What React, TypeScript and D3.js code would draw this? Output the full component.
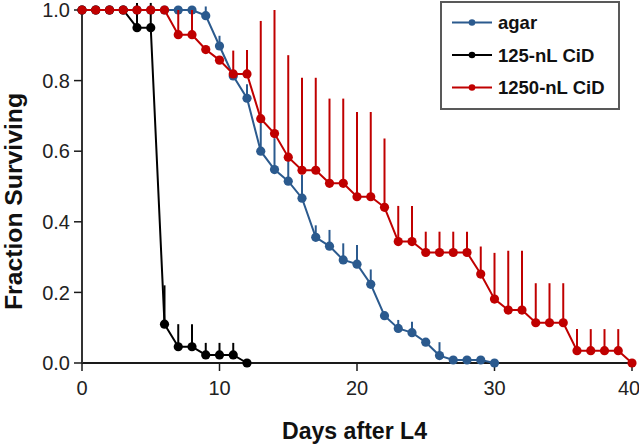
import React from "react";
import * as d3 from "d3";

const agarDays = [0,1,2,3,4,5,6,7,8,9,10,11,12,13,14,15,16,17,18,19,20,21,22,23,24,25,26,27,28,29,30];
const agarValues = [1,1,1,1,1,1,1,1,1,0.984,0.898,0.813,0.75,0.6,0.548,0.515,0.467,0.356,0.331,0.292,0.28,0.223,0.134,0.098,0.086,0.059,0.021,0.0085,0.0085,0.0085,0];
const agarUpper = [null,null,null,null,null,null,null,null,null,1.01,0.927,null,0.79,0.69,0.637,0.575,0.533,0.39,0.377,0.339,0.334,0.265,null,0.122,0.117,null,0.059,null,null,null,null];

const cid125Days = [0,1,2,3,4,5,6,7,8,9,10,11,12];
const cid125Values = [1,1,1,1,0.95,0.95,0.11,0.046,0.046,0.023,0.023,0.023,0];
const cid125Upper = [null,null,null,null,1.02,1.02,0.22,0.11,0.11,0.057,0.057,0.057,null];

const cid1250Days = [0,1,2,3,4,5,6,7,8,9,10,11,12,13,14,15,16,17,18,19,20,21,22,23,24,25,26,27,28,29,30,31,32,33,34,35,36,37,38,39,40];
const cid1250Values = [1,1,1,1,1,1,1,0.93,0.93,0.888,0.858,0.819,0.819,0.692,0.65,0.583,0.546,0.546,0.509,0.509,0.471,0.471,0.441,0.344,0.344,0.313,0.313,0.313,0.313,0.252,0.181,0.15,0.15,0.114,0.114,0.114,0.035,0.035,0.035,0.035,0];
const cid1250Upper = [null,null,null,null,null,null,null,1.0,1.0,null,null,0.885,0.887,0.969,1.0,0.872,0.808,0.808,0.749,0.749,0.711,0.711,0.636,0.445,0.445,0.372,0.372,0.372,0.372,0.33,0.312,0.318,0.318,0.226,0.226,0.226,0.096,0.096,0.096,0.096,null];

const seriesNames = ["agar", "125-nL CiD", "1250-nL CiD"];
const seriesColors = ["#2b5a8e", "#000000", "#c00000"];
const xTicks = [0, 10, 20, 30, 40];
const yTicks = [0, 0.2, 0.4, 0.6, 0.8, 1.0];

const W = 639, H = 446;

export default function App() {
  const x = d3.scaleLinear().domain([0, 40]).range([82, 632]);
  const y = d3.scaleLinear().domain([0, 1]).range([363, 10]);
  const line = d3.line<[number, number]>().x(d => x(d[0])).y(d => y(d[1]));

  const series = [
    { days: agarDays, values: agarValues, upper: agarUpper },
    { days: cid125Days, values: cid125Values, upper: cid125Upper },
    { days: cid1250Days, values: cid1250Values, upper: cid1250Upper },
  ];
  const drawOrder = [0, 1, 2];
  const tickFont = "'Liberation Sans Narrow', 'Arial Narrow', 'Liberation Sans', Arial, sans-serif";
  const boldFont = "'Liberation Sans', Arial, sans-serif";

  return (
    <svg width={W} height={H} style={{ position: "absolute", left: 0, top: 0, background: "#fff" }}>
      {/* axes */}
      <line x1={x(0)} x2={x(40)} y1={y(0)} y2={y(0)} stroke="#1a1a1a" strokeWidth={2} />
      <line x1={x(0)} x2={x(0)} y1={y(0)} y2={y(1)} stroke="#333" strokeWidth={2} />
      {xTicks.map(t => (
        <g key={"xt" + t}>
          <line x1={x(t)} x2={x(t)} y1={y(0)} y2={y(0) + 8} stroke="#1a1a1a" strokeWidth={1.5} />
          <text x={Math.min(x(t), W - 10)} y={395} textAnchor="middle" fontFamily={tickFont} fontSize={20} fill="#222">{t}</text>
        </g>
      ))}
      {yTicks.map(t => (
        <g key={"yt" + t}>
          <line x1={x(0) - 8} x2={x(0)} y1={y(t)} y2={y(t)} stroke="#1a1a1a" strokeWidth={1.5} />
          <text x={70} y={y(t)} dy="0.36em" textAnchor="end" fontFamily={tickFont} fontSize={20} fill="#222">{t.toFixed(1)}</text>
        </g>
      ))}
      <text x={354.5} y={439} textAnchor="middle" fontFamily={boldFont} fontWeight="bold" fontSize={23} textLength={145} lengthAdjust="spacingAndGlyphs" fill="#111">Days after L4</text>
      <text transform={`translate(22,201.5) rotate(-90)`} textAnchor="middle" fontFamily={boldFont} fontWeight="bold" fontSize={24} textLength={217} lengthAdjust="spacingAndGlyphs" fill="#111">Fraction Surviving</text>

      {/* series */}
      {drawOrder.map(i => {
        const s = series[i];
        const c = seriesColors[i];
        const pts: [number, number][] = s.days.map((d, k) => [d, s.values[k]]);
        return (
          <g key={"s" + i}>
            {s.days.map((d, k) => s.upper[k] == null ? null : (
              <line key={"e" + k} x1={x(d)} x2={x(d)} y1={y(s.values[k])} y2={y(s.upper[k] as number)} stroke={c} strokeWidth={2} />
            ))}
            <path d={line(pts) || ""} fill="none" stroke={c} strokeWidth={2} />
            {s.days.map((d, k) => (
              <circle key={"p" + k} cx={x(d)} cy={y(s.values[k])} r={4.6} fill={c} />
            ))}
          </g>
        );
      })}

      {/* legend */}
      <rect x={441} y={2} width={178} height={107} fill="#fff" stroke="#595959" strokeWidth={2} />
      {seriesNames.map((n, i) => {
        const base = 29 + i * 32.5;
        const cy = base - 6.5;
        return (
          <g key={"l" + i}>
            <line x1={452} x2={492} y1={cy} y2={cy} stroke={seriesColors[i]} strokeWidth={2} />
            <circle cx={472} cy={cy} r={3.3} fill={seriesColors[i]} />
            <text x={498} y={base} fontFamily={boldFont} fontWeight="bold" fontSize={18.5} fill="#111">{n}</text>
          </g>
        );
      })}
    </svg>
  );
}
